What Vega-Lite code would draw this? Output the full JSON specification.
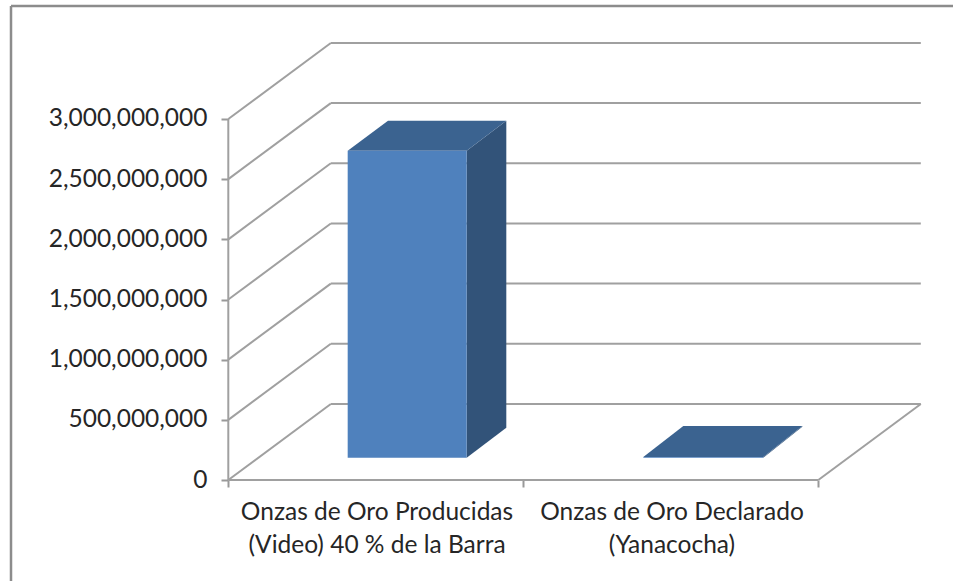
{
"$schema":"https://vega.github.io/schema/vega-lite/v6.json",
"width":953,"height":581,"padding":0,"autosize":{"type":"none"},
"background":"white",
"view":{"stroke":null},
"config":{"axis":{"grid":false,"title":null,"domain":false,"tickColor":"#999999","tickWidth":2,"tickSize":7,"labelFont":"Lato","labelFontSize":24.5,"labelColor":"#262626"}},
"layer":[
{"data":{"values":[{"x":-0.7366,"x2":-0.7366,"y":3.939e9,"y2":-8.393e8},{"x":-0.7366,"x2":2.45661,"y":3.939e9,"y2":3.939e9}]},
 "mark":{"type":"rule","color":"#8c8c8c","strokeWidth":2.5},
 "encoding":{
  "x":{"field":"x","type":"quantitative","scale":{"domain":[-0.7739,2.45661],"nice":false,"zero":false},
       "axis":{"orient":"bottom","offset":-101,"values":[0,1,2],"labelExpr":"''"}},
  "x2":{"field":"x2"},
  "y":{"field":"y","type":"quantitative","scale":{"domain":[-8.393e8,3.9889e9],"nice":false,"zero":false},
       "axis":{"orient":"left","offset":-228,"values":[0,500000000,1000000000,1500000000,2000000000,2500000000,3000000000],"format":",d","labelPadding":14}},
  "y2":{"field":"y2"}}},
{"data":{"values":[
 {"x":0,"x2":0,"y":0,"y2":3000000000},
 {"x":0,"x2":2,"y":0,"y2":0},
 {"x":2,"x2":2.3475,"y":0,"y2":632000000},
 {"x":0,"x2":0.3475,"y":0,"y2":632000000},
 {"x":0,"x2":0.3475,"y":500000000,"y2":1132000000},
 {"x":0,"x2":0.3475,"y":1000000000,"y2":1632000000},
 {"x":0,"x2":0.3475,"y":1500000000,"y2":2132000000},
 {"x":0,"x2":0.3475,"y":2000000000,"y2":2632000000},
 {"x":0,"x2":0.3475,"y":2500000000,"y2":3132000000},
 {"x":0,"x2":0.3475,"y":3000000000,"y2":3632000000},
 {"x":0.3475,"x2":2.3475,"y":632000000,"y2":632000000},
 {"x":0.3475,"x2":2.3475,"y":1132000000,"y2":1132000000},
 {"x":0.3475,"x2":2.3475,"y":1632000000,"y2":1632000000},
 {"x":0.3475,"x2":2.3475,"y":2132000000,"y2":2132000000},
 {"x":0.3475,"x2":2.3475,"y":2632000000,"y2":2632000000},
 {"x":0.3475,"x2":2.3475,"y":3132000000,"y2":3132000000},
 {"x":0.3475,"x2":2.3475,"y":3632000000,"y2":3632000000}
 ]},
 "mark":{"type":"rule","color":"#a0a0a0","strokeWidth":2},
 "encoding":{"x":{"field":"x","type":"quantitative"},"x2":{"field":"x2"},"y":{"field":"y","type":"quantitative"},"y2":{"field":"y2"}}},
{"data":{"values":[
 {"bar":"Onzas de Oro Producidas","x":0.8081,"y":185300000,"y2":2736600000},
 {"bar":"Onzas de Oro Producidas","x":0.9424,"y":434600000,"y2":2985900000},
 {"bar":"Onzas de Oro Declarado","x":1.8136,"y":185300000,"y2":192000000},
 {"bar":"Onzas de Oro Declarado","x":1.9458,"y":442000000,"y2":448700000}
 ]},
 "mark":{"type":"area","color":"#325379"},
 "encoding":{"x":{"field":"x","type":"quantitative"},"y":{"field":"y","type":"quantitative"},"y2":{"field":"y2"},"detail":{"field":"bar"}}},
{"data":{"values":[
 {"bar":"Onzas de Oro Producidas","y":2736600000,"x":0.4047,"x2":0.8081},
 {"bar":"Onzas de Oro Producidas","y":2985900000,"x":0.5414,"x2":0.9424},
 {"bar":"Onzas de Oro Declarado","y":192000000,"x":1.4068,"x2":1.8136},
 {"bar":"Onzas de Oro Declarado","y":448700000,"x":1.5424,"x2":1.9458}
 ]},
 "mark":{"type":"area","color":"#3B6390","orient":"horizontal"},
 "encoding":{"y":{"field":"y","type":"quantitative"},"x":{"field":"x","type":"quantitative"},"x2":{"field":"x2"},"detail":{"field":"bar"}}},
{"data":{"values":[
 {"bar":"Onzas de Oro Producidas","x":0.4047,"x2":0.8081,"y":185300000,"y2":2736600000},
 {"bar":"Onzas de Oro Declarado","x":1.4068,"x2":1.8136,"y":185300000,"y2":192000000}
 ]},
 "mark":{"type":"rect","color":"#4F81BD"},
 "encoding":{"x":{"field":"x","type":"quantitative"},"x2":{"field":"x2"},"y":{"field":"y","type":"quantitative"},"y2":{"field":"y2"}}},
{"data":{"values":[
 {"x":0.504,"y":0,"label":"Onzas de Oro Producidas\n(Video) 40 % de la Barra"},
 {"x":1.504,"y":0,"label":"Onzas de Oro Declarado\n(Yanacocha)"}
 ]},
 "mark":{"type":"text","font":"Lato","fontSize":24.5,"color":"#262626","align":"center","baseline":"top","lineHeight":33,"lineBreak":"\n","dy":21},
 "encoding":{"x":{"field":"x","type":"quantitative"},"y":{"field":"y","type":"quantitative"},"text":{"field":"label"}}}
]
}
